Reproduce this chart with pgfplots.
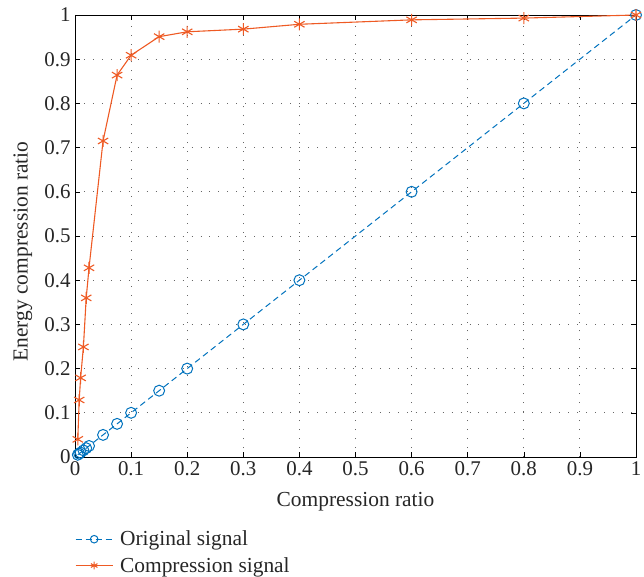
\documentclass[border=0pt]{standalone}
\usepackage{fontspec}
\setmainfont{Liberation Serif}
\usepackage{pgfplots}
\pgfplotsset{compat=1.18}
\definecolor{origblue}{HTML}{0072BD}
\definecolor{comporange}{HTML}{EE5A24}

\begin{document}
\begin{tikzpicture}
\begin{axis}[
    scale only axis,
    width=561bp,
    height=442bp,
    xmin=0, xmax=1,
    ymin=0, ymax=1,
    xtick={0,0.1,...,1},
    ytick={0,0.1,...,1},
    xticklabels={0,0.1,0.2,0.3,0.4,0.5,0.6,0.7,0.8,0.9,1},
    yticklabels={0,0.1,0.2,0.3,0.4,0.5,0.6,0.7,0.8,0.9,1},
    /pgf/number format/assume math mode=true,
    tick label style={font=\fontsize{21}{24}\selectfont, black!85},
    xticklabel style={yshift=-1pt},
    yticklabel style={xshift=-1pt},
    xlabel={Compression ratio},
    ylabel={Energy compression ratio},
    xlabel style={font=\fontsize{21.5}{24}\selectfont, black!85,
        at={(axis description cs:0.5,-0.08)}, anchor=north, inner sep=0pt},
    ylabel style={font=\fontsize{21.5}{24}\selectfont, black!85,
        at={(axis description cs:-0.093,0.465)}, anchor=center, inner sep=0pt},
    tick align=inside,
    major tick length=5pt,
    tick style={black, line width=0.6pt},
    axis line style={black, line width=0.9pt},
    grid=major,
    grid style={black!60, line width=0.9pt, dash pattern=on 1pt off 8pt},
    legend style={at={(axis description cs:0,-0.158)}, anchor=north west,
        draw=none, fill=none, inner xsep=0pt,
        font=\fontsize{21.5}{24}\selectfont, text=black!85,
        nodes={inner xsep=7pt}, row sep=6pt},
    legend cell align=left,
    legend image code/.code={%
        \draw[mark repeat=2, mark phase=2, mark size=3.8pt]
            plot coordinates {(0cm,0cm) (0.65cm,0cm) (1.3cm,0cm)};},
    clip=false,
]
\addplot[color=origblue, line width=1pt, dash pattern=on 6pt off 4pt,
    mark=o, mark size=5.5pt,
    mark options={solid, line width=1pt}] coordinates {
    (0.005,0.005) (0.0075,0.0075) (0.01,0.01) (0.015,0.015) (0.02,0.02) (0.025,0.025)
    (0.05,0.05) (0.075,0.075) (0.1,0.1) (0.15,0.15) (0.2,0.2) (0.3,0.3)
    (0.4,0.4) (0.6,0.6) (0.8,0.8) (1,1)
};
\addplot[color=comporange, line width=1.1pt, mark=asterisk, mark size=6pt,
    mark options={solid, line width=1.1pt}] coordinates {
    (0.005,0.04) (0.0075,0.129) (0.01,0.179) (0.015,0.249) (0.02,0.36) (0.025,0.428)
    (0.05,0.715) (0.075,0.864) (0.1,0.909) (0.15,0.951) (0.2,0.962) (0.3,0.968)
    (0.4,0.979) (0.6,0.989) (0.8,0.993) (1,1)
};
\legend{Original signal, Compression signal}
\end{axis}
\pgfresetboundingbox
\path ([shift={(-75bp,-120bp)}]current axis.south west)
    rectangle ([shift={(8bp,15bp)}]current axis.north east);
\end{tikzpicture}
\end{document}
